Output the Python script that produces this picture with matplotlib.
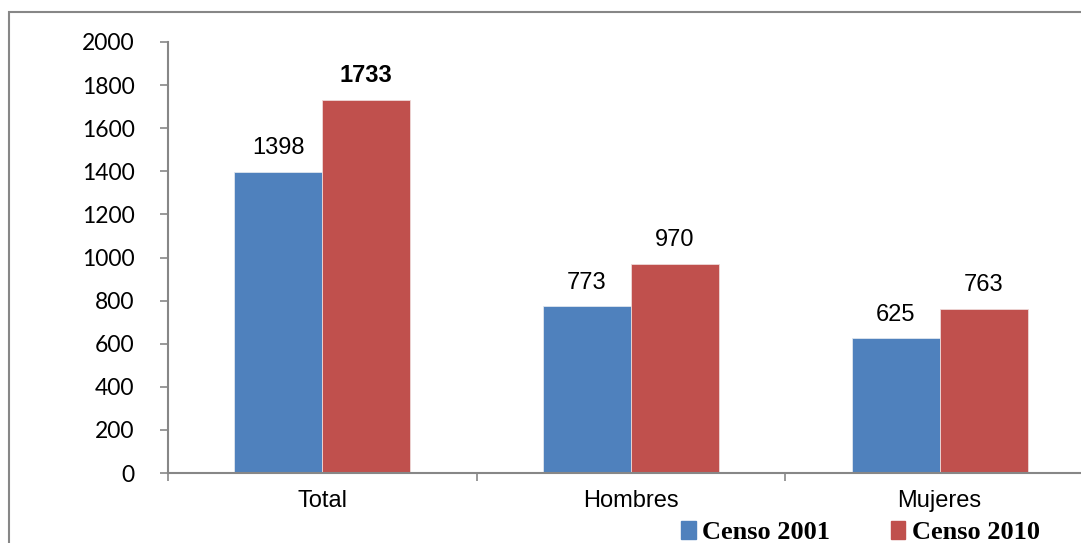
import numpy as np
import matplotlib
matplotlib.use("Agg")
from matplotlib import pyplot as plt
from matplotlib.patches import Rectangle, Patch

categories = ["Total", "Hombres", "Mujeres"]
censo_2001 = [1398, 773, 625]
censo_2010 = [1733, 970, 763]
series_names = ["Censo 2001", "Censo 2010"]
yticks = [0, 200, 400, 600, 800, 1000, 1200, 1400, 1600, 1800, 2000]

blue = "#4F81BD"
red = "#C0504D"
grey = "#878787"

fig = plt.figure(figsize=(10.81, 5.43), dpi=100)
# axes run a little past the right edge like in the original
ax = fig.add_axes([168/1081, 70/543, 926/1081, 431/543])

x = np.arange(len(categories))
w = 0.285
b1 = ax.bar(x - w/2, censo_2001, w, color=blue, edgecolor="#dfe6ee", linewidth=0.6)
b2 = ax.bar(x + w/2, censo_2010, w, color=red, edgecolor="#eed9d8", linewidth=0.6)

for i, v in enumerate(censo_2001):
    ax.annotate(str(v), (x[i] - w/2, v), xytext=(0, 9), textcoords="offset points",
                ha="center", va="bottom", fontsize=17, family="Liberation Sans")
for i, v in enumerate(censo_2010):
    ax.annotate(str(v), (x[i] + w/2, v), xytext=(0, 9), textcoords="offset points",
                ha="center", va="bottom", fontsize=17, family="Liberation Sans",
                fontweight="bold" if i == 0 else "normal")

ax.set_xlim(-0.5, 2.5)
ax.set_ylim(0, 2000)
ax.set_yticks(yticks)
ax.set_yticklabels([str(t) for t in yticks], family="Lato", fontsize=16.5)
ax.set_xticks(x)
ax.set_xticklabels(categories, family="Liberation Sans", fontsize=17)
ax.set_xticks([-0.5, 0.5, 1.5, 2.5], minor=True)
ax.tick_params(axis="x", which="major", length=0, pad=12)
ax.tick_params(axis="x", which="minor", length=6, width=1.2, color=grey, direction="out")
ax.tick_params(axis="y", length=6, width=1.2, color=grey, pad=18)

for s in ["top", "right"]:
    ax.spines[s].set_visible(False)
for s in ["left", "bottom"]:
    ax.spines[s].set_color(grey)
    ax.spines[s].set_linewidth(1.5)

handles = [Patch(color=blue), Patch(color=red)]
fig.legend(handles, series_names, loc="upper left", bbox_to_anchor=(681/1081, 1 - 521/543),
           ncol=2, frameon=False, handlelength=0.55, handleheight=0.7, handletextpad=0.25,
           columnspacing=2.3, borderaxespad=0, borderpad=0,
           prop={"family": "Liberation Serif", "weight": "bold", "size": 19})

# outer chart border (cut off at right and bottom)
fig.patches.append(Rectangle((9/1081, -0.1), 1.1, 1.1 - 12/543, transform=fig.transFigure,
                             fill=False, edgecolor=grey, linewidth=1.5))

fig.savefig("out.png", dpi=100)
